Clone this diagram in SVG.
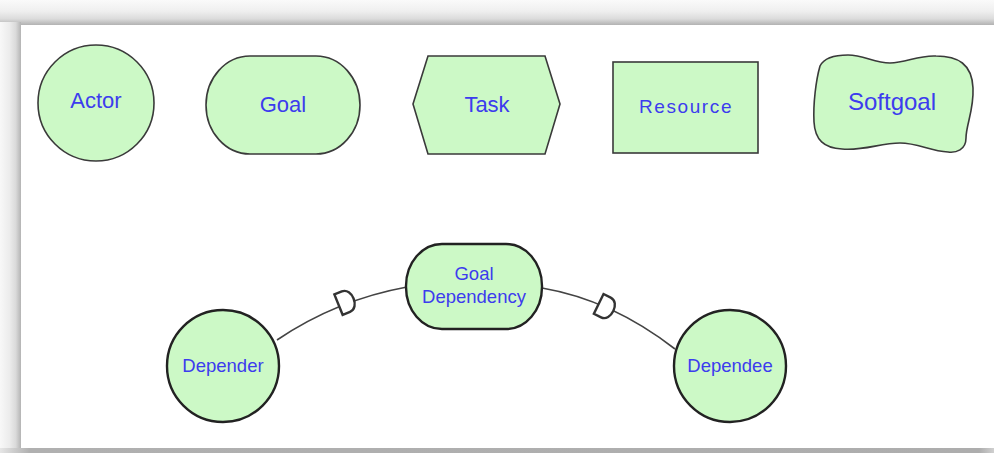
<svg xmlns="http://www.w3.org/2000/svg" width="994" height="453" viewBox="0 0 994 453">
<defs>
<linearGradient id="gTop" x1="0" y1="0" x2="0" y2="1">
<stop offset="0" stop-color="#fafafa"/>
<stop offset="0.45" stop-color="#efefef"/>
<stop offset="0.75" stop-color="#dcdcdc"/>
<stop offset="1" stop-color="#b2b2b2"/>
</linearGradient>
<linearGradient id="gLeft" x1="0" y1="0" x2="1" y2="0">
<stop offset="0" stop-color="#f8f8f8"/>
<stop offset="0.45" stop-color="#ececec"/>
<stop offset="0.75" stop-color="#dadada"/>
<stop offset="1" stop-color="#b4b4b4"/>
</linearGradient>
<linearGradient id="gBot" x1="0" y1="0" x2="1" y2="0">
<stop offset="0" stop-color="#e6e6e6"/>
<stop offset="0.03" stop-color="#b0b0b0"/>
<stop offset="0.985" stop-color="#adadad"/>
<stop offset="1" stop-color="#d0d0d0"/>
</linearGradient>
<path id="dmark" d="M -7,-11 L 1,-11 C 12,-11 12,11 1,11 L -7,11 Z"/>
</defs>
<style>
.shape{fill:#ccf9c6;stroke:#3a3a3a;stroke-width:1.6}
.shape2{fill:#ccf9c6;stroke:#222;stroke-width:2.4}
.lbl{font-family:"Liberation Sans",Arial,sans-serif;fill:#3c3cee;text-anchor:middle}
.conn{fill:none;stroke:#444;stroke-width:1.6}
.d{fill:#fff;stroke:#333;stroke-width:2.4}
</style>
<rect x="0" y="0" width="994" height="453" fill="#fafafa"/>
<rect x="0" y="0" width="994" height="25" fill="url(#gTop)"/>
<rect x="0" y="22" width="21" height="426" fill="url(#gLeft)"/>
<rect x="21" y="25" width="973" height="423" fill="#ffffff"/>
<rect x="0" y="448" width="994" height="5" fill="url(#gBot)"/>

<g id="actor">
<circle class="shape" cx="96" cy="103" r="58"/>
<text class="lbl" x="96" y="108" font-size="22">Actor</text>
</g>
<g id="goal">
<rect class="shape" x="206" y="56" width="154" height="98" rx="44" ry="49"/>
<text class="lbl" x="283" y="112" font-size="22">Goal</text>
</g>
<g id="task">
<polygon class="shape" points="413,104 428,56 545,56 560,104 545,154 428,154"/>
<text class="lbl" x="487" y="112" font-size="22">Task</text>
</g>
<g id="resource">
<rect class="shape" x="613" y="62" width="145" height="91"/>
<text class="lbl" x="686" y="113" font-size="19" letter-spacing="1.6">Resource</text>
</g>
<g id="softgoal">
<path class="shape" d="M 820,66 C 824,58 834,55 848,55 C 864,55 874,63 890,63 C 906,63 918,55 936,56 C 958,56 972,64 973,88 C 974,110 966,125 966,138 C 966,150 956,153 948,152 C 930,151 918,143 900,143 C 880,143 864,151 842,149 C 824,148 815,140 814,122 C 813,104 816,80 820,66 Z"/>
<text class="lbl" x="892" y="110" font-size="24">Softgoal</text>
</g>

<g id="connectors">
<path class="conn" d="M 277,340 Q 336,300 407,287"/>
<path class="conn" d="M 542,288 Q 612,300 675,349"/>
<use href="#dmark" class="d" transform="translate(345,302) rotate(-22)"/>
<use href="#dmark" class="d" transform="translate(605,307) rotate(26)"/>
</g>

<g id="goal-dependency">
<rect class="shape2" x="406" y="244" width="136" height="85" rx="36" ry="42"/>
<text class="lbl" x="474" y="280" font-size="18.5">Goal</text>
<text class="lbl" x="474" y="303" font-size="18.5">Dependency</text>
</g>
<g id="depender">
<circle class="shape2" cx="223" cy="366" r="56"/>
<text class="lbl" x="223" y="372" font-size="18.5">Depender</text>
</g>
<g id="dependee">
<circle class="shape2" cx="730" cy="366" r="56"/>
<text class="lbl" x="730" y="372" font-size="18.5">Dependee</text>
</g>
</svg>
